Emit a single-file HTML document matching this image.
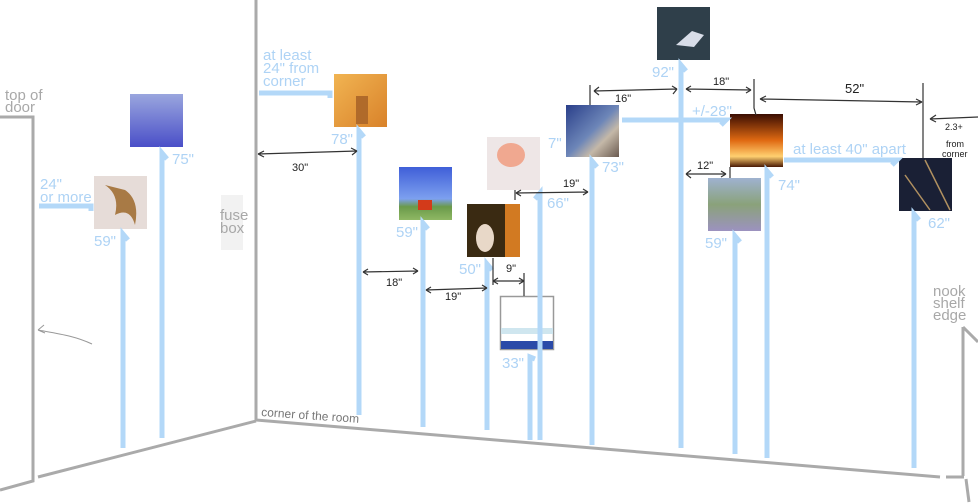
<!DOCTYPE html>
<html><head><meta charset="utf-8"><style>
html,body{margin:0;padding:0;background:#fff}
svg{display:block}
.b{fill:#aed3f5;font-family:"Liberation Sans",sans-serif;font-size:15px}
.g{fill:#a8a8a8;font-family:"Liberation Sans",sans-serif;font-size:15px}
.k{fill:#222;font-family:"Liberation Sans",sans-serif;font-size:11px}
.bl{stroke:#b3d8f8;stroke-width:5;fill:none}
.bk{stroke:#333;stroke-width:1.2;fill:none}
</style></head><body>
<svg width="978" height="504" viewBox="0 0 978 504" xmlns="http://www.w3.org/2000/svg">
<defs>
<linearGradient id="gBlue" x1="0" y1="0" x2="0" y2="1"><stop offset="0" stop-color="#9aa6de"/><stop offset="1" stop-color="#4a4fc8"/></linearGradient>
<linearGradient id="gOr" x1="0" y1="0" x2="1" y2="1"><stop offset="0" stop-color="#f1b452"/><stop offset="1" stop-color="#d9822a"/></linearGradient>
<linearGradient id="gMow" x1="0" y1="0" x2="0" y2="1"><stop offset="0" stop-color="#3f5fd8"/><stop offset=".6" stop-color="#7da0ef"/><stop offset=".75" stop-color="#6a9a4a"/><stop offset="1" stop-color="#8fb864"/></linearGradient>
<linearGradient id="gFire" x1="0" y1="0" x2="0" y2="1"><stop offset="0" stop-color="#3a0d02"/><stop offset=".5" stop-color="#e06a12"/><stop offset=".8" stop-color="#ffd070"/><stop offset="1" stop-color="#4a1a05"/></linearGradient>
<linearGradient id="gFace" x1="0" y1="0" x2="0" y2="1"><stop offset="0" stop-color="#9fb2d0"/><stop offset=".5" stop-color="#8aa27a"/><stop offset="1" stop-color="#9c92c0"/></linearGradient>
<linearGradient id="gOcean" x1="0" y1="0" x2="1" y2="1"><stop offset="0" stop-color="#2a3f8a"/><stop offset=".5" stop-color="#6d86b8"/><stop offset=".7" stop-color="#c4b8a8"/><stop offset="1" stop-color="#6a5a50"/></linearGradient>
</defs>
<!-- walls -->
<g stroke="#aaa" stroke-width="3" fill="none">
<line x1="256" y1="0" x2="256" y2="421"/>
<line x1="256" y1="421" x2="38" y2="477"/>
<polyline points="0,117 33,117 33,481 0,490"/>
<line x1="256" y1="420" x2="940" y2="477"/>
<line x1="946" y1="477" x2="964" y2="477"/>
<line x1="963" y1="476" x2="963" y2="327"/>
<line x1="963" y1="327" x2="978" y2="342"/>
<line x1="966" y1="479" x2="969" y2="502"/>
</g>
<path d="M92,344 C75,336 60,334 38,330 M38,330 l6,-5 M38,330 l7,3" stroke="#999" stroke-width="1" fill="none"/>
<rect x="221" y="195" width="22" height="55" fill="#f2f2f2"/>
<!-- pictures -->
<rect x="130" y="94" width="53" height="53" fill="url(#gBlue)"/>
<rect x="94" y="176" width="53" height="53" fill="#e6dcd8"/>
<path d="M105,185 q15,10 10,30 q15,-8 20,10 q5,-25 -10,-35 z" fill="#a87a45"/>
<rect x="334" y="74" width="53" height="53" fill="url(#gOr)"/>
<rect x="356" y="96" width="12" height="28" fill="#b06a2a"/>
<rect x="399" y="167" width="53" height="53" fill="url(#gMow)"/>
<rect x="418" y="200" width="14" height="10" fill="#d33a1a"/>
<rect x="487" y="137" width="53" height="53" fill="#eee6e6"/>
<ellipse cx="511" cy="155" rx="14" ry="12" fill="#f0a890"/>
<rect x="467" y="204" width="53" height="53" fill="#3a2a12"/>
<rect x="505" y="204" width="15" height="53" fill="#d27a22"/>
<ellipse cx="485" cy="238" rx="9" ry="14" fill="#e8d8c8"/>
<rect x="500.5" y="296.5" width="53" height="53" fill="#fff" stroke="#999" stroke-width="1.5"/>
<rect x="501" y="328" width="52" height="6" fill="#cfe6ef"/>
<rect x="501" y="341" width="52" height="8" fill="#2a4aa8"/>
<rect x="566" y="105" width="53" height="52" fill="url(#gOcean)"/>
<rect x="657" y="7" width="53" height="53" fill="#2f3f4a"/>
<path d="M676,45 l16,-14 l12,4 l-10,12 z" fill="#d8dde8"/>
<rect x="730" y="114" width="53" height="53" fill="url(#gFire)"/>
<rect x="708" y="178" width="53" height="53" fill="url(#gFace)"/>
<rect x="899" y="158" width="53" height="53" fill="#1a2035"/>
<path d="M925,160 l25,50 M905,175 l25,35" stroke="#b09060" stroke-width="1.5"/>
<!-- blue vertical arrows -->
<g class="bl">
<path d="M123,448 V234 l5,6"/>
<path d="M162,438 V153 l5,6"/>
<path d="M359,415 V131 l5,6"/>
<path d="M423,427 V223 l5,6"/>
<path d="M487,430 V264 l5,6"/>
<path d="M530,440 V357 l5,2"/>
<path d="M540,440 V193 l-5,6"/>
<path d="M592,445 V161 l5,6"/>
<path d="M681,448 V65 l5,6"/>
<path d="M735,454 V236 l5,6"/>
<path d="M767,458 V171 l5,6"/>
<path d="M914,468 V214 l5,6"/>
<!-- horizontals -->
<path d="M39,206 H91 v5"/>
<path d="M259,93 H330 v5"/>
<path d="M622,120 H726 l-5,5"/>
<path d="M784,160 H897 l-5,5"/>
</g>
<!-- blue labels -->
<text class="b" x="40" y="189">24"</text><text class="b" x="40" y="202">or more</text>
<text class="b" x="94" y="246">59"</text>
<text class="b" x="172" y="164">75"</text>
<text class="b" x="263" y="60">at least</text><text class="b" x="263" y="73">24" from</text><text class="b" x="263" y="86">corner</text>
<text class="b" x="331" y="144">78"</text>
<text class="b" x="396" y="237">59"</text>
<text class="b" x="459" y="274">50"</text>
<text class="b" x="548" y="148">7"</text>
<text class="b" x="547" y="208">66"</text>
<text class="b" x="502" y="368">33"</text>
<text class="b" x="602" y="172">73"</text>
<text class="b" x="652" y="77">92"</text>
<text class="b" x="692" y="116">+/-28"</text>
<text class="b" x="778" y="190">74"</text>
<text class="b" x="705" y="248">59"</text>
<text class="b" x="793" y="154">at least 40" apart</text>
<text class="b" x="928" y="228">62"</text>
<!-- grey labels -->
<text class="g" x="5" y="100">top of</text><text class="g" x="5" y="112">door</text>
<text class="g" x="220" y="220">fuse</text><text class="g" x="220" y="233">box</text>
<text class="g" x="261" y="416" style="font-size:12px;fill:#777" transform="rotate(4 261 416)">corner of the room</text>
<text class="g" x="933" y="296">nook</text><text class="g" x="933" y="308">shelf</text><text class="g" x="933" y="320">edge</text>
<!-- black dimension arrows -->
<g class="bk">
<path d="M258,154 L357,151 M258,154 l6,-3 M258,154 l6,3 M357,151 l-6,-3 M357,151 l-5,4"/>
<path d="M363,272 L418,271 M363,272 l5,-3 M363,272 l5,3 M418,271 l-5,-3 M418,271 l-5,3"/>
<path d="M426,290 L487,288 M426,290 l5,-3 M426,290 l5,3 M487,288 l-5,-3 M487,288 l-5,3"/>
<path d="M493,258 V285 M493,281 L524,281 M493,281 l5,-3 M493,281 l5,3 M524,281 l-5,-3 M524,281 l-5,3 M524,273 V296"/>
<path d="M515,190 V200 M516,193 L588,192 M516,193 l5,-3 M516,193 l5,3 M588,192 l-5,-3 M588,192 l-5,3"/>
<path d="M590,85 V105 M594,91 L677,89 M594,91 l5,-4 M594,91 l5,4 M677,89 l-5,-3 M677,89 l-4,5"/>
<path d="M686,89 L751,90 M686,89 l5,-3 M686,89 l5,3 M751,90 l-5,-3 M751,90 l-5,3 M754,79 V108 L756,115"/>
<path d="M686,174 L726,174 M686,174 l5,-4 M686,174 l5,4 M726,174 l-5,-3 M726,174 l-5,3 M730,167 V178"/>
<path d="M760,99 L922,102 M760,99 l6,-3 M760,99 l6,3 M922,102 l-6,-3 M922,102 l-6,3 M923,83 V158"/>
<path d="M978,117 L930,119 M930,119 l6,-4 M930,119 l6,3"/>
</g>
<text class="k" x="292" y="171">30"</text>
<text class="k" x="386" y="286">18"</text>
<text class="k" x="445" y="300">19"</text>
<text class="k" x="506" y="272">9"</text>
<text class="k" x="563" y="187">19"</text>
<text class="k" x="615" y="102">16"</text>
<text class="k" x="713" y="85">18"</text>
<text class="k" x="697" y="169">12"</text>
<text class="k" x="845" y="93" style="font-size:13px">52"</text>
<text class="k" x="945" y="130" style="font-size:9px">2.3+</text>
<text class="k" x="946" y="147" style="font-size:9px">from</text>
<text class="k" x="942" y="157" style="font-size:9px">corner</text>
</svg>
</body></html>
